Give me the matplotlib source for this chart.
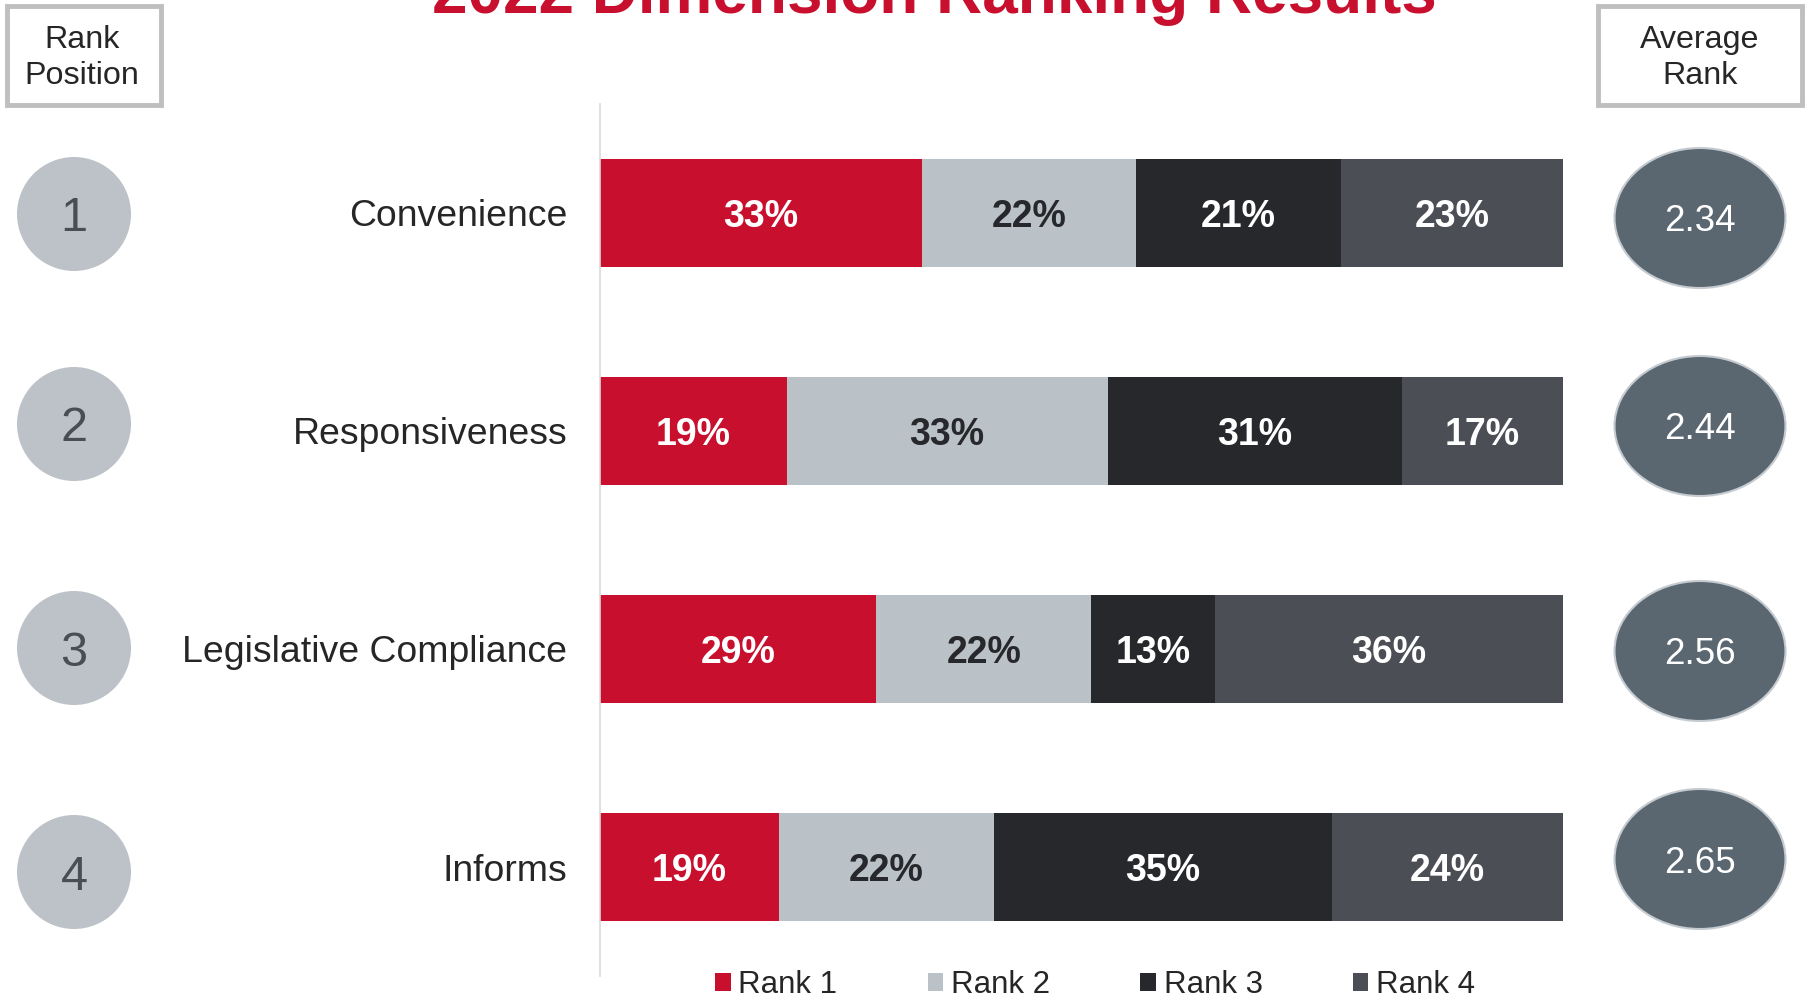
import matplotlib.pyplot as plt
from matplotlib.patches import Circle, Ellipse, Rectangle

# values (segments fill each bar to 100%)
categories = ['Convenience', 'Responsiveness', 'Legislative Compliance', 'Informs']
rank_positions = ['1', '2', '3', '4']
series_names = ['Rank 1', 'Rank 2', 'Rank 3', 'Rank 4']
rank1 = [33.4, 19.4, 28.7, 18.6]
rank2 = [22.3, 33.3, 22.3, 22.3]
rank3 = [21.2, 30.6, 12.9, 35.1]
rank4 = [23.1, 16.7, 36.1, 24.0]
average_rank = [2.34, 2.44, 2.56, 2.65]

colors = ['#C8102E', '#BBC2C7', '#27282C', '#4B4E55']
label_colors = ['white', '#27282C', 'white', 'white']
text_color = '#262626'

# the slide's badges sit a few pixels off the bar centres (pixels, + = down)
circle_nudge = [1, -7, -1, 5]
ellipse_nudge = [5, -5, 2, -8]

plt.rcParams['font.family'] = ['Liberation Sans', 'DejaVu Sans']

W, H = 1812, 997
fig = plt.figure(figsize=(W / 100, H / 100), dpi=100)

# stacked bars
ax = fig.add_axes([600 / W, 1 - 976 / H, 963 / W, 872 / H])
y = list(range(len(categories)))
left = [0] * len(categories)
for name, vals, c, lc in zip(series_names, [rank1, rank2, rank3, rank4], colors, label_colors):
    bars = ax.barh(y, vals, left=left, height=0.495, color=c, label=name, linewidth=0)
    texts = ax.bar_label(bars, labels=[f'{v:.0f}%' for v in vals], label_type='center',
                         color=lc, fontsize=27, fontweight='bold')
    for t in texts:
        t.xyann = (0, -3)
    left = [l + v for l, v in zip(left, vals)]

ax.set_xlim(0, 100)
ax.set_ylim(len(categories) - 0.5, -0.5)
ax.set_yticks(y, categories, fontsize=26.9, color=text_color)
ax.tick_params(axis='y', length=0, pad=23.5)
ax.set_xticks([])
for s in ['top', 'right', 'bottom']:
    ax.spines[s].set_visible(False)
ax.spines['left'].set_color('#D9D9D9')
ax.spines['left'].set_linewidth(1.2)

# overlay in pixel coordinates for the decorations
ov = fig.add_axes([0, 0, 1, 1])
ov.set_xlim(0, W)
ov.set_ylim(0, H)
ov.axis('off')

for i in y:
    row_y = ax.transData.transform((0, i))[1]
    cy = row_y - circle_nudge[i]
    ov.add_patch(Circle((74, cy), 57, facecolor='#BCC2C7', edgecolor='none'))
    ov.text(74, cy, rank_positions[i], ha='center', va='center_baseline',
            fontsize=35, color='#4A4D55')
    ey = row_y - ellipse_nudge[i]
    ov.add_patch(Ellipse((1700, ey), 171, 140, facecolor='#5B6770',
                         edgecolor='#C5CBD0', linewidth=1.5))
    ov.text(1700, ey, f'{average_rank[i]:.2f}', ha='center', va='center_baseline',
            fontsize=26.5, color='white')

# header boxes
ov.add_patch(Rectangle((7, H - 105), 154, 99, facecolor='white',
                       edgecolor='#BFBFBF', linewidth=3.5))
ov.text(82, H - 58, 'Rank\nPosition', ha='center', va='center',
        fontsize=23.2, color=text_color, linespacing=1.3)
ov.add_patch(Rectangle((1598, H - 105), 204, 99, facecolor='white',
                       edgecolor='#BFBFBF', linewidth=3.5))
ov.text(1700, H - 58, 'Average\nRank', ha='center', va='center',
        fontsize=23.2, color=text_color, linespacing=1.3)

# title (cut off by the top edge, like the source slide)
fig.text(934 / W, 1 - 13 / H, '2022 Dimension Ranking Results', ha='center',
         va='baseline', fontsize=46, fontweight='bold', color='#C8102E')

handles, labels = ax.get_legend_handles_labels()
fig.legend(handles, labels, loc='center', bbox_to_anchor=(1095 / W, 1 - 985 / H),
           ncol=4, frameon=False, fontsize=22.5, labelcolor=text_color,
           handlelength=0.5, handleheight=0.5, handletextpad=0.25,
           columnspacing=2.88, borderpad=0)

fig.savefig('out.png', dpi=100)
